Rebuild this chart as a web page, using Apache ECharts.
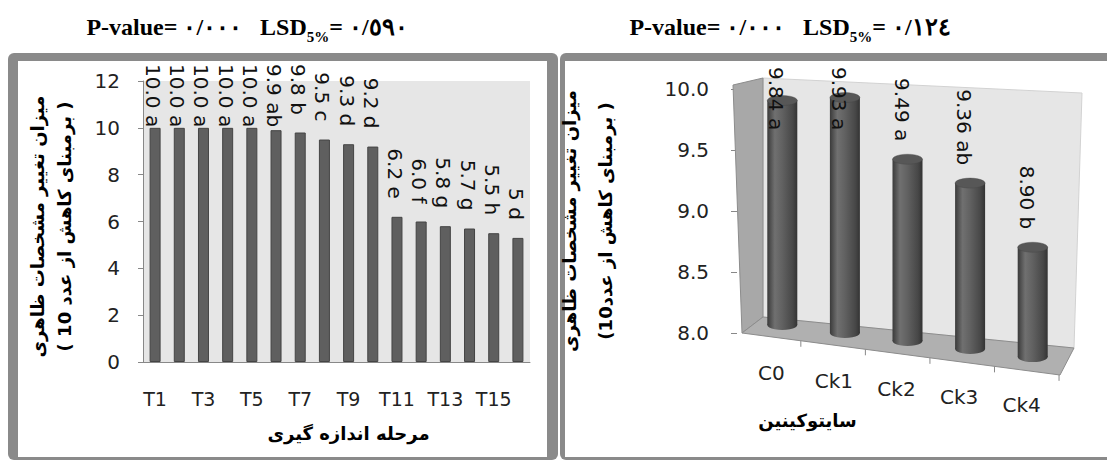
<!DOCTYPE html>
<html>
<head>
<meta charset="utf-8">
<script src="https://cdn.jsdelivr.net/npm/echarts@6/dist/echarts.min.js"></script>
<style>
    html, body { margin: 0; padding: 0; background: #fff; }
    #chart { width: 1107px; height: 461px; }
</style>
</head>
<body>
<div id="chart"></div>
<script>
// 左图：测量阶段
const stages = ['T1', 'T2', 'T3', 'T4', 'T5', 'T6', 'T7', 'T8', 'T9', 'T10', 'T11', 'T12', 'T13', 'T14', 'T15', 'T16'];
const stageValues = [10.0, 10.0, 10.0, 10.0, 10.0, 9.9, 9.8, 9.5, 9.3, 9.2, 6.2, 6.0, 5.8, 5.7, 5.5, 5.3];
const stageLabels = ['10.0 a', '10.0 a', '10.0 a', '10.0 a', '10.0 a', '9.9 ab', '9.8 b', '9.5 c', '9.3 d', '9.2 d',
    '6.2 e', '6.0 f', '5.8 g', '5.7 g', '5.5 h', '5 d'];
const stageTicks = [0, 12, 2];   // min, max, step

// 右图：细胞分裂素
const cytokinins = ['C0', 'Ck1', 'Ck2', 'Ck3', 'Ck4'];
const cytoValues = [9.84, 9.93, 9.49, 9.36, 8.90];
const cytoLabels = ['9.84 a', '9.93 a', '9.49 a', '9.36 ab', '8.90 b'];
const cytoTicks = [8, 10, 0.5];

const chart = echarts.init(document.getElementById('chart'), null, { renderer: 'svg' });

const NUM_FONT = 'DejaVu Sans';
const LABEL_FONT = '20px "DejaVu Sans"';
const measureCtx = document.createElement('canvas').getContext('2d');
function textWidth(str) {
    measureCtx.font = LABEL_FONT;
    return measureCtx.measureText(str).width;
}

// 数据标签：放在柱顶上方，太高时贴住图区顶部（Excel 的做法）
function placeLabel(x, topY, txt, minTop) {
    const len = textWidth(txt);
    let end = topY - 18;
    if (end - len < minTop) end = minTop + len;
    return {
        type: 'text', x: x, y: end, rotation: -Math.PI / 2,
        style: { text: txt, font: LABEL_FONT, fill: '#111', align: 'right', verticalAlign: 'middle' }
    };
}

function renderStageLabel(params, api) {
    const p = api.coord([api.value(0), api.value(1)]);
    return placeLabel(p[0] - 2, p[1], stageLabels[params.dataIndex], 64);
}

// 圆柱（带透视：越往右越低）
const FLOOR_LIFT = -8;
const FLOOR_SLOPE = 0.128;
const CYL_W = 30;
const bodyGrad = new echarts.graphic.LinearGradient(0, 0, 1, 0, [
    { offset: 0, color: '#3a3a3a' },
    { offset: 0.25, color: '#707070' },
    { offset: 0.5, color: '#616161' },
    { offset: 0.85, color: '#474747' },
    { offset: 1, color: '#333' }
]);

function renderCylinder(params, api) {
    const cat = api.value(0);
    const top = api.coord([cat, api.value(1)]);
    const base = api.coord([cat, cytoTicks[0]]);
    const first = api.coord([0, cytoTicks[0]]);
    const shift = FLOOR_LIFT + (top[0] - first[0]) * FLOOR_SLOPE;
    const cx = top[0];
    const yTop = top[1] + shift;
    const yBot = base[1] + shift;
    const rx = CYL_W / 2;
    const ry = 5;
    return {
        type: 'group',
        children: [
            { type: 'circle', x: cx, y: yBot, scaleY: ry / rx, shape: { cx: 0, cy: 0, r: rx }, style: { fill: bodyGrad } },
            { type: 'rect', shape: { x: cx - rx, y: yTop, width: CYL_W, height: yBot - yTop }, style: { fill: bodyGrad } },
            { type: 'circle', x: cx, y: yTop, scaleY: ry / rx, shape: { cx: 0, cy: 0, r: rx },
                style: { fill: '#575757', stroke: '#444', lineWidth: 0.6 } },
            placeLabel(cx - 6, yTop, cytoLabels[params.dataIndex], 67),
            { type: 'text', x: cx - 11, y: yBot + 48,
                style: { text: cytokinins[params.dataIndex], font: LABEL_FONT, fill: '#222', align: 'center', verticalAlign: 'middle' } }
        ]
    };
}

const titleRich = {
    a: { fontFamily: 'Liberation Serif', fontWeight: 'bold', fontSize: 24, color: '#000' },
    s: { fontFamily: 'Liberation Serif', fontWeight: 'bold', fontSize: 15, color: '#000', padding: [20, 0, 0, 0] }
};

const persianName = { fontFamily: 'DejaVu Sans', fontWeight: 'bold', fontSize: 18, color: '#000' };

// 右图的墙面和地板
const frontL = [742, 333], frontR = [1060, 375];
const floorTicks = [0, 1, 2, 3, 4].map(k => {
    const t = 0.185 + 0.203 * k;
    const x = frontL[0] + (frontR[0] - frontL[0]) * t;
    const y = frontL[1] + (frontR[1] - frontL[1]) * t;
    return { type: 'line', shape: { x1: x, y1: y, x2: x, y2: y + 6 }, style: { stroke: '#888', lineWidth: 1 }, z: 1 };
});

const option = {
    animation: false,
    title: [
        { text: '{a|P-value= ٠/٠٠٠   LSD}{s|5%}{a|= ٠/٥٩٠}', left: 242, top: 4, textAlign: 'center', textStyle: { rich: titleRich } },
        { text: '{a|P-value= ٠/٠٠٠   LSD}{s|5%}{a|= ٠/١٢٤}', left: 785, top: 4, textAlign: 'center', textStyle: { rich: titleRich } }
    ],
    graphic: [
        { type: 'rect', shape: { x: 8, y: 53, width: 550, height: 407, r: 6 }, style: { fill: '#8a8a8a' }, z: -10 },
        { type: 'rect', shape: { x: 18, y: 61, width: 529, height: 396 }, style: { fill: '#fff' }, z: -9 },
        { type: 'rect', shape: { x: 560, y: 53, width: 560, height: 407, r: 6 }, style: { fill: '#8a8a8a' }, z: -10 },
        { type: 'rect', shape: { x: 565, y: 61, width: 560, height: 396 }, style: { fill: '#fff' }, z: -9 },
        { type: 'polygon', shape: { points: [[763, 78], [1082, 93], [1074, 348], [763, 317]] },
            style: { fill: '#e6e6e6', stroke: '#d2d2d2', lineWidth: 1 }, z: 1 },
        { type: 'polygon', shape: { points: [[733, 85], [763, 78], [763, 317], frontL] },
            style: { fill: '#a8a8a8', stroke: '#8c8c8c', lineWidth: 1 }, z: 1 },
        { type: 'polygon', shape: { points: [frontL, [763, 317], [1074, 348], frontR] },
            style: { fill: '#b0b0b0', stroke: '#8c8c8c', lineWidth: 1 }, z: 1 },
        ...floorTicks
    ],
    grid: [
        { left: 143, top: 81, width: 387, height: 281, show: true, backgroundColor: '#e6e6e6', borderWidth: 0 },
        { left: 751, top: 89, width: 313, height: 244 }
    ],
    xAxis: [
        {
            gridIndex: 0, type: 'category', data: stages,
            axisLine: { lineStyle: { color: '#888' } },
            axisTick: { length: 5, lineStyle: { color: '#888' } },
            axisLabel: { interval: 1, margin: 27, fontFamily: NUM_FONT, fontSize: 19, color: '#222' },
            name: 'مرحله اندازه گیری', nameLocation: 'middle', nameGap: 62,
            nameTextStyle: Object.assign({ padding: [0, 0, 0, 24] }, persianName)
        },
        {
            gridIndex: 1, type: 'category', data: cytokinins,
            axisLine: { show: false }, axisTick: { show: false }, axisLabel: { show: false },
            name: 'سایتوکینین', nameLocation: 'middle', nameGap: 78,
            nameTextStyle: Object.assign({ padding: [0, 200, 0, 0] }, persianName)
        }
    ],
    yAxis: [
        {
            gridIndex: 0, type: 'value', min: stageTicks[0], max: stageTicks[1], interval: stageTicks[2],
            splitLine: { show: false },
            axisLine: { show: true, lineStyle: { color: '#888' } },
            axisTick: { show: true, length: 5, lineStyle: { color: '#888' } },
            axisLabel: { margin: 23, fontFamily: NUM_FONT, fontSize: 20, color: '#222' },
            name: 'میزان تغییر مشخصات ظاهری\n( برمبنای کاهش از عدد 10 )',
            nameLocation: 'middle', nameRotate: 90, nameGap: 65,
            nameTextStyle: Object.assign({ lineHeight: 27, padding: [0, 10, 0, 0] }, persianName)
        },
        {
            gridIndex: 1, type: 'value', min: cytoTicks[0], max: cytoTicks[1], interval: cytoTicks[2], offset: 14,
            splitLine: { show: false },
            axisLine: { show: false },
            axisTick: { show: true, length: 6, lineStyle: { color: '#888' } },
            axisLabel: { margin: 28, fontFamily: NUM_FONT, fontSize: 20, color: '#222', formatter: v => v.toFixed(1) },
            name: 'میزان تغییر مشخصات ظاهری\n(برمبنای کاهش از عدد10 )',
            nameLocation: 'middle', nameRotate: 90, nameGap: 114,
            nameTextStyle: Object.assign({ lineHeight: 36, padding: [0, 20, 0, 0] }, persianName)
        }
    ],
    series: [
        {
            type: 'bar', xAxisIndex: 0, yAxisIndex: 0, data: stageValues, barWidth: 11,
            itemStyle: { color: '#5f5f5f', borderColor: '#444', borderWidth: 1 }
        },
        {
            type: 'custom', xAxisIndex: 0, yAxisIndex: 0, silent: true, z: 5,
            data: stageValues.map((v, i) => [i, v]), renderItem: renderStageLabel
        },
        {
            type: 'custom', xAxisIndex: 1, yAxisIndex: 1, silent: true, z: 5,
            data: cytoValues.map((v, i) => [i, v]), renderItem: renderCylinder
        }
    ]
};

chart.setOption(option);
</script>
</body>
</html>
